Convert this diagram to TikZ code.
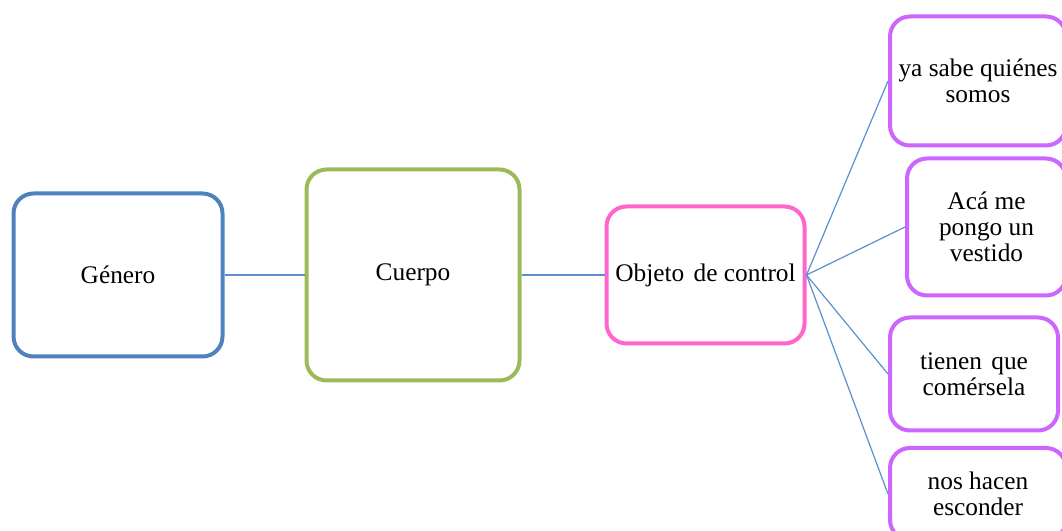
\documentclass[tikz,border=0pt]{standalone}
\usepackage{fontspec}
\setmainfont{Liberation Serif}
\usetikzlibrary{positioning}

\definecolor{genblue}{HTML}{4F81BD}
\definecolor{cuegreen}{HTML}{9BBB59}
\definecolor{objpink}{HTML}{FF66CC}
\definecolor{leafpurple}{HTML}{CC66FF}
\definecolor{linkblue}{HTML}{5B8FD0}

\begin{document}
\begin{tikzpicture}[x=0.75pt, y=0.75pt,
		mapbox/.style={draw, line width=3pt, rounded corners=15pt, inner sep=0pt, align=center,
			font=\fontsize{19}{19.5}\selectfont},
		link/.style={draw=linkblue, line width=0.9pt}]
		\useasboundingbox (0,0) rectangle (1062,531);
		\clip (0,0) rectangle (1062,531);
		% main chain
		\node[mapbox, draw=genblue, minimum width=156.75pt, minimum height=122.25pt] (genero) at (118,256) {Género};
		\node[mapbox, draw=cuegreen, minimum width=159.75pt, minimum height=158.25pt] (cuerpo) at (413,256) {Cuerpo};
		\node[mapbox, draw=objpink, minimum width=148.5pt, minimum height=102.75pt] (objeto) at (705.5,256) {Objeto\hspace{0.12em} de control};
		\draw[link] (genero.east) -- (cuerpo.west);
		\draw[link] (cuerpo.east) -- (objeto.west);
		
		% leaves
		\node[mapbox, draw=leafpurple, minimum width=132pt, minimum height=96.75pt] (somos) at (978,450) {ya sabe quiénes\\somos};
		\node[mapbox, draw=leafpurple, minimum width=119.25pt, minimum height=102.75pt] (vestido) at (986.5,304) {Acá me\\pongo un\\vestido};
		\node[mapbox, draw=leafpurple, minimum width=126pt, minimum height=84.75pt] (comer) at (974,157) {tienen\hspace{0.12em} que\\comérsela};
		\node[mapbox, draw=leafpurple, minimum width=132pt, minimum height=69pt] (esconder) at (978,37) {nos hacen\\esconder};
		\draw[link] (objeto.east) -- (somos.west);
		\draw[link] (objeto.east) -- (vestido.west);
		\draw[link] (objeto.east) -- (comer.west);
		\draw[link] (objeto.east) -- (esconder.west);
		
	\end{tikzpicture}
\end{document}
